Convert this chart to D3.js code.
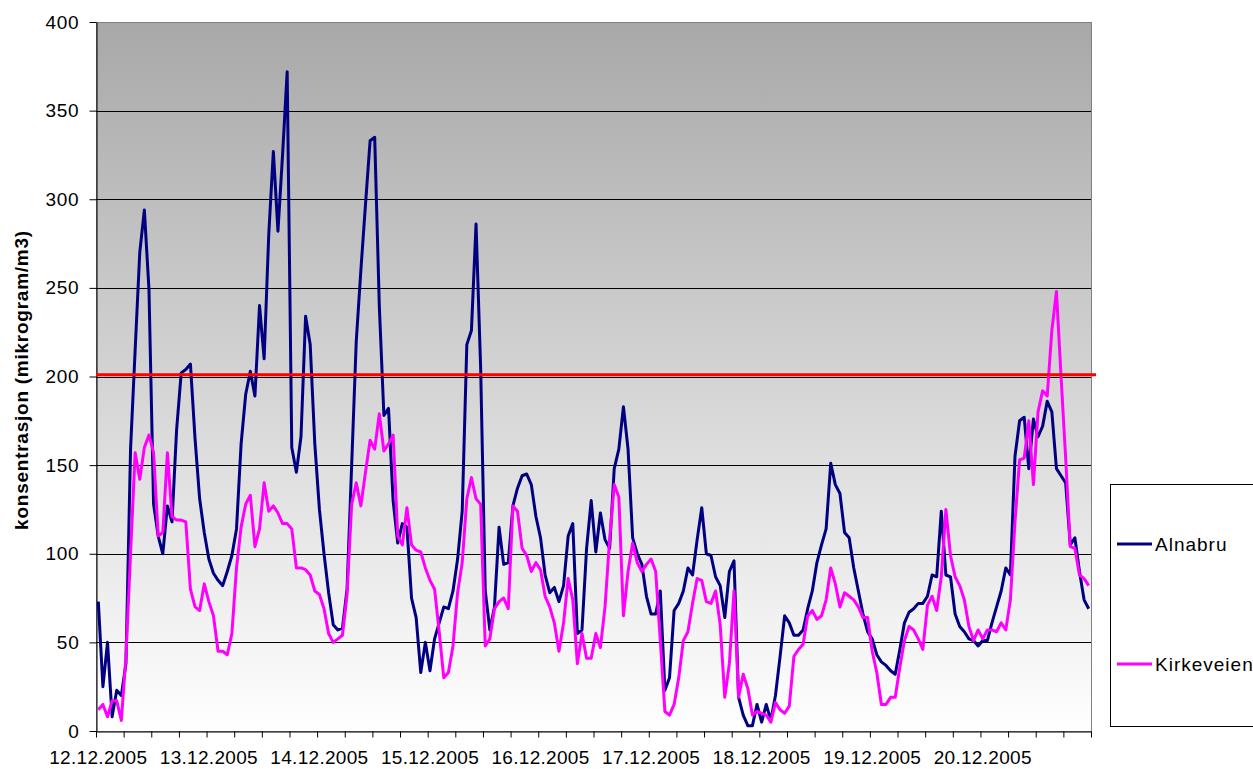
<!DOCTYPE html>
<html>
<head>
<meta charset="utf-8">
<script src="https://cdn.jsdelivr.net/npm/d3@7"></script>
<style>
  body { margin: 0; background: #fff; }
  text { font-family: "Liberation Sans", Arial, sans-serif; }
</style>
</head>
<body>
<svg id="chart" width="1253" height="769"></svg>
<script>
// one label per day, one value per hour (216 hours)
var dateLabels = ["12.12.2005", "13.12.2005", "14.12.2005", "15.12.2005", "16.12.2005",
  "17.12.2005", "18.12.2005", "19.12.2005", "20.12.2005"];
var yTicks = [0, 50, 100, 150, 200, 250, 300, 350, 400];
var limitValue = 201;
var seriesNames = ["Alnabru", "Kirkeveien"];
var seriesColors = ["#000080", "#ff00ff"];

var alnabru = [
  73, 25, 50, 8, 23, 20, 38, 159, 215, 270, 294, 249, 128, 110, 100, 127, 118, 170, 202, 204, 207, 165, 131, 112,
  97, 89, 85, 82, 90, 99, 114, 162, 190, 203, 189, 240, 210, 280, 327, 282, 325, 372, 160, 146, 166, 234, 218, 162,
  125, 100, 78, 60, 57, 58, 80, 150, 220, 260, 297, 333, 335, 240, 178, 182, 130, 106, 117, 115, 75, 64, 33, 50,
  34, 52, 61, 70, 69, 79, 97, 124, 218, 226, 286, 205, 79, 57, 70, 115, 94, 95, 127, 137, 144, 145, 139, 121,
  109, 88, 78, 81, 73, 82, 110, 117, 55, 57, 103, 130, 101, 123, 108, 103, 148, 159, 183, 159, 109, 100, 94, 76,
  66, 66, 79, 23, 30, 68, 72, 79, 92, 88, 108, 126, 100, 99, 87, 82, 64, 90, 96, 19, 9, 3, 3, 15,
  5, 15, 6, 20, 42, 65, 61, 54, 54, 57, 69, 79, 95, 105, 114, 151, 139, 134, 112, 109, 92, 79, 66, 56,
  52, 43, 39, 37, 34, 32, 46, 61, 67, 69, 72, 72, 76, 88, 87, 124, 88, 87, 66, 59, 56, 52, 51, 48,
  51, 51, 61, 70, 79, 92, 88, 155, 175, 177, 148, 176, 166, 172, 186, 180, 148, 144, 140, 105, 109, 90, 74, 69
];
var kirkeveien = [
  12, 15, 8, 17, 17, 6, 42, 100, 157, 142, 160, 167, 157, 110, 112, 157, 121, 119, 119, 118, 80, 70, 68, 83,
  73, 65, 45, 45, 43, 55, 92, 115, 128, 133, 104, 114, 140, 124, 127, 123, 117, 117, 114, 92, 92, 91, 88, 79,
  77, 69, 55, 50, 52, 54, 77, 128, 140, 127, 146, 164, 159, 179, 158, 162, 167, 110, 105, 126, 105, 102, 101, 92,
  85, 80, 56, 30, 33, 48, 78, 95, 131, 143, 131, 128, 48, 52, 69, 73, 75, 69, 127, 124, 103, 99, 90, 95,
  91, 76, 70, 61, 45, 61, 86, 74, 38, 55, 41, 41, 55, 47, 70, 108, 139, 132, 65, 90, 106, 95, 90, 94,
  97, 90, 51, 11, 9, 15, 30, 51, 56, 72, 86, 85, 73, 72, 79, 60, 19, 38, 79, 19, 32, 24, 9, 11,
  10, 9, 5, 16, 12, 10, 14, 42, 46, 49, 65, 68, 63, 65, 74, 92, 83, 70, 78, 76, 74, 70, 64, 64,
  45, 33, 15, 15, 19, 19, 36, 51, 59, 57, 52, 46, 71, 76, 68, 87, 125, 99, 87, 82, 74, 59, 51, 57,
  52, 57, 57, 56, 61, 57, 74, 118, 153, 154, 175, 139, 180, 192, 189, 226, 248, 200, 154, 104, 103, 88, 86, 82
];

(function () {
  var svg = d3.select("#chart");
  var plotLeft = 96, plotRight = 1091, plotTop = 22, plotBottom = 731;
  var hours = alnabru.length;

  var x = d3.scaleLinear().domain([0, hours]).range([plotLeft, plotRight]);
  var y = d3.scaleLinear().domain([0, 400]).range([plotBottom, plotTop]);

  // grey to white plot background
  var grad = svg.append("defs").append("linearGradient")
    .attr("id", "bg").attr("x1", 0).attr("y1", 0).attr("x2", 0).attr("y2", 1);
  grad.append("stop").attr("offset", "0%").attr("stop-color", "#a8a8a8");
  grad.append("stop").attr("offset", "100%").attr("stop-color", "#ffffff");

  svg.append("rect")
    .attr("x", plotLeft + 0.5).attr("y", plotTop + 0.5)
    .attr("width", plotRight - plotLeft).attr("height", plotBottom - plotTop)
    .attr("fill", "url(#bg)")
    .attr("stroke", "#808080").attr("stroke-width", 1);

  // horizontal grid
  svg.append("g").selectAll("line")
    .data(yTicks.filter(function (d) { return d > 0 && d < 400; }))
    .enter().append("line")
    .attr("x1", plotLeft).attr("x2", plotRight)
    .attr("y1", function (d) { return Math.round(y(d)) + 0.5; })
    .attr("y2", function (d) { return Math.round(y(d)) + 0.5; })
    .attr("stroke", "#000").attr("stroke-width", 1);

  // y axis
  var yAxis = svg.append("g")
    .attr("transform", "translate(" + (plotLeft + 0.5) + ",0)")
    .call(d3.axisLeft(y).tickValues(yTicks).tickSize(7).tickPadding(10).tickSizeOuter(0));
  yAxis.select(".domain").attr("stroke", "#000");
  yAxis.selectAll("text")
    .attr("font-size", "19px").attr("fill", "#000")
    .attr("letter-spacing", "0.8px")
    .attr("font-family", "Liberation Sans, Arial, sans-serif");

  // x axis: tick every 6 hours, label every day
  var xAxis = svg.append("g")
    .attr("transform", "translate(0," + (plotBottom + 0.5) + ")")
    .call(d3.axisBottom(x).tickValues(d3.range(0, hours + 1, 6)).tickSize(6).tickSizeOuter(0).tickFormat(""));
  xAxis.select(".domain").attr("stroke", "#000");

  svg.append("g").selectAll("text")
    .data(dateLabels)
    .enter().append("text")
    .attr("x", function (d, i) { return x(i * 24 + 0.5); })
    .attr("y", 764)
    .attr("text-anchor", "middle")
    .attr("font-size", "19px")
    .attr("letter-spacing", "0.3px")
    .text(function (d) { return d; });

  // y axis title
  svg.append("text")
    .attr("transform", "translate(28,380) rotate(-90)")
    .attr("text-anchor", "middle")
    .attr("font-size", "19px")
    .attr("font-weight", "bold")
    .attr("letter-spacing", "0.75px")
    .text("konsentrasjon (mikrogram/m3)");

  // series
  var line = d3.line()
    .x(function (d, i) { return x(i + 0.5); })
    .y(function (d) { return y(d); });

  [alnabru, kirkeveien].forEach(function (series, k) {
    svg.append("path")
      .datum(series)
      .attr("d", line)
      .attr("fill", "none")
      .attr("stroke", seriesColors[k])
      .attr("stroke-width", 3)
      .attr("stroke-linejoin", "round");
  });

  // limit line
  svg.append("line")
    .attr("x1", plotLeft).attr("x2", plotRight + 5)
    .attr("y1", y(limitValue)).attr("y2", y(limitValue))
    .attr("stroke", "#ff0000").attr("stroke-width", 3);

  // legend
  var legend = svg.append("g");
  legend.append("rect")
    .attr("x", 1110.5).attr("y", 484.5)
    .attr("width", 170).attr("height", 242)
    .attr("fill", "#fff").attr("stroke", "#000").attr("stroke-width", 1);

  var items = legend.selectAll(".item")
    .data(seriesNames)
    .enter().append("g")
    .attr("class", "item")
    .attr("transform", function (d, i) { return "translate(1117," + (544 + i * 120) + ")"; });
  items.append("line")
    .attr("x1", 0).attr("x2", 35)
    .attr("stroke", function (d, i) { return seriesColors[i]; })
    .attr("stroke-width", 3);
  items.append("text")
    .attr("x", 38).attr("y", 7)
    .attr("font-size", "19px")
    .attr("letter-spacing", "1px")
    .text(function (d) { return d; });
})();
</script>
</body>
</html>
